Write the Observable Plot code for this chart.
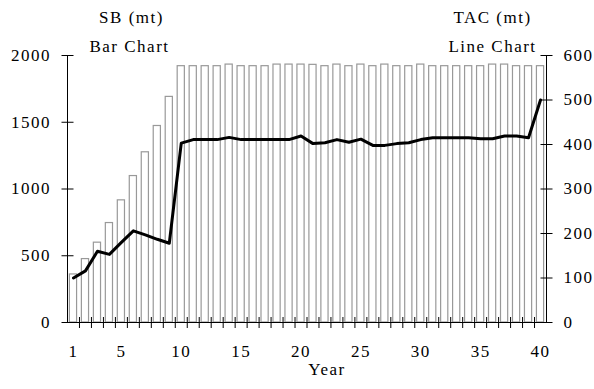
<!DOCTYPE html>
<html><head><meta charset="utf-8">
<script src="https://cdn.jsdelivr.net/npm/d3@7"></script>
<script src="https://cdn.jsdelivr.net/npm/@observablehq/plot@0.6"></script>
<style>
body{margin:0;background:#fff}
#chart svg{font-family:"Liberation Serif","Times New Roman",serif;letter-spacing:1.5px}
</style>
</head><body><div id="chart"></div>
<script>
const years = [1,2,3,4,5,6,7,8,9,10,11,12,13,14,15,16,17,18,19,20,21,22,23,24,25,26,27,28,29,30,31,32,33,34,35,36,37,38,39,40];
const sbValues = [360,475,598,745,915,1097,1275,1472,1690,1920,1920,1920,1920,1932,1920,1920,1920,1932,1932,1932,1930,1920,1932,1920,1932,1920,1932,1920,1920,1932,1920,1920,1920,1920,1920,1932,1932,1920,1920,1920];
const tacValues = [100,116,160,153,180,206,197,187,178,403,411,411,411,416,411,411,411,411,411,419,402,404,411,405,412,398,398,402,404,411,415,415,415,415,413,413,419,419,415,500];
const xTickLabels = [1,5,10,15,20,25,30,35,40];
const leftTicks = [0,500,1000,1500,2000];
const rightTicks = [0,100,200,300,400,500,600];

const SB_MAX = 2000, TAC_MAX = 600;
const K = SB_MAX / TAC_MAX;
const data = years.map((y, i) => ({year: y, sb: sbValues[i], tac: tacValues[i]}));
const boundaries = years.slice(0, -1).map(y => y + 0.5);

const vTick = {draw(ctx){ ctx.moveTo(0,-5.5); ctx.lineTo(0,5.5); }};
const hTick = {draw(ctx){ ctx.moveTo(-6,0); ctx.lineTo(6,0); }};

const chart = Plot.plot({
  width: 594, height: 389,
  marginLeft: 67, marginRight: 48, marginTop: 55, marginBottom: 67,
  style: {fontSize: "17px", fontFamily: "'Liberation Serif','Times New Roman',serif", background: "#fff", color: "#000"},
  x: {type: "linear", domain: [0.5, 40.5]},
  y: {domain: [0, SB_MAX]},
  marks: [
    Plot.rect(data, {x1: d => d.year - 0.5, x2: d => d.year + 0.5, y1: 0, y2: "sb", insetLeft: 2.4, insetRight: 2.4, fill: "white", stroke: "#999", strokeWidth: 1.2}),
    Plot.ruleX([0.5, 40.5], {stroke: "black"}),
    Plot.ruleY([0], {stroke: "black"}),
    Plot.dot(boundaries, {x: d => d, y: 0, symbol: vTick, fill: "none", stroke: "black", strokeWidth: 1}),
    Plot.dot(leftTicks, {x: 0.5, y: d => d, symbol: hTick, fill: "none", stroke: "black", strokeWidth: 1}),
    Plot.dot(rightTicks.map(v => v * K), {x: 40.5, y: d => d, symbol: hTick, fill: "none", stroke: "black", strokeWidth: 1}),
    Plot.line(data, {x: "year", y: d => d.tac * K, stroke: "black", strokeWidth: 3, strokeLinejoin: "round"}),
    Plot.axisY(leftTicks, {anchor: "left", tickSize: 0, tickPadding: 16.5, tickFormat: d => String(d), label: null}),
    Plot.text(rightTicks, {x: 40.5, y: d => d * K, text: d => String(d), textAnchor: "start", dx: 17}),
    Plot.axisX(xTickLabels, {anchor: "bottom", tickSize: 0, tickPadding: 22, label: null}),
    Plot.text(["SB (mt)"], {frameAnchor: "top-left", textAnchor: "middle", text: d => d, dx: 64, dy: -44.4}),
    Plot.text(["Bar Chart"], {frameAnchor: "top-left", textAnchor: "middle", text: d => d, dx: 62, dy: -15.4}),
    Plot.text(["TAC (mt)"], {frameAnchor: "top-right", textAnchor: "middle", text: d => d, dx: -54, dy: -44.4}),
    Plot.text(["Line Chart"], {frameAnchor: "top-right", textAnchor: "middle", text: d => d, dx: -54, dy: -15.4}),
    Plot.text(["Year"], {frameAnchor: "bottom", textAnchor: "middle", text: d => d, dx: 20, dy: 52})
  ]
});
document.getElementById("chart").appendChild(chart);
</script>
</body></html>
